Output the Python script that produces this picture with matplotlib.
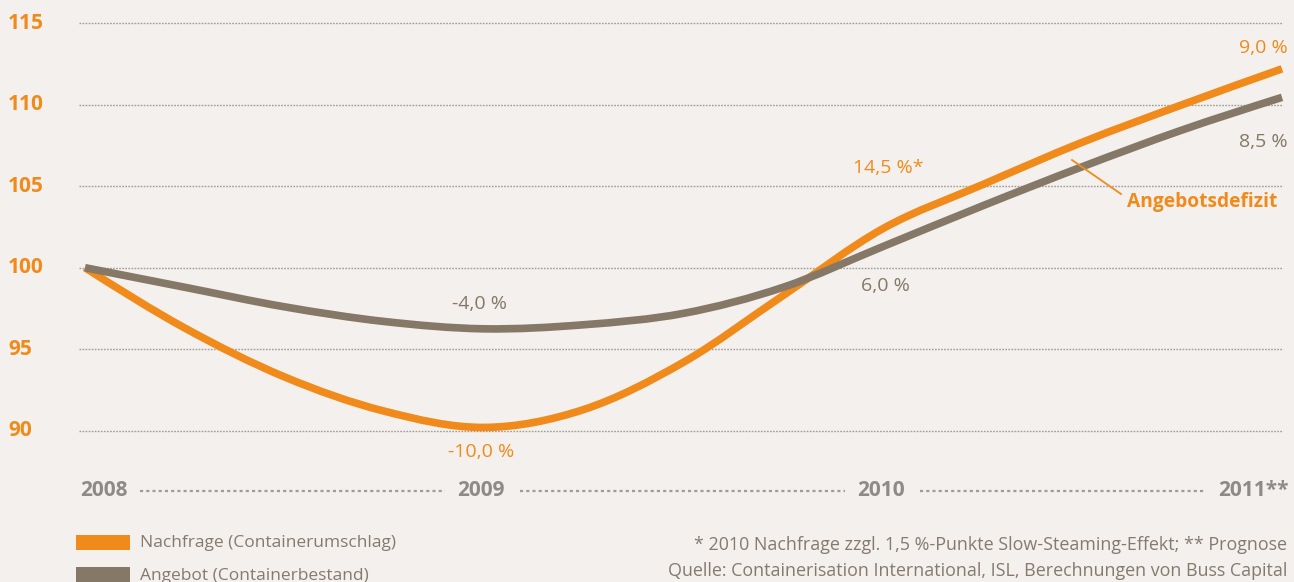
import numpy as np
import matplotlib
matplotlib.use("Agg")
import matplotlib.pyplot as plt
from matplotlib.path import Path
from matplotlib.patches import PathPatch, Rectangle

# ---------------- data ----------------
years = [2008, 2009, 2010, 2011]
year_labels = ["2008", "2009", "2010", "2011**"]
y_ticks = [90, 95, 100, 105, 110, 115]

# curve readings (index values) at quarter-year steps
t_read = [2008.0, 2008.25, 2008.5, 2008.75, 2009.0, 2009.25, 2009.5,
          2009.75, 2010.0, 2010.25, 2010.5, 2010.75, 2011.0]
nachfrage = [100.0, 96.3, 93.3, 91.2, 90.2, 91.3, 94.2,
             98.3, 102.4, 105.1, 107.7, 110.0, 112.2]
angebot = [100.0, 98.8, 97.6, 96.7, 96.25, 96.5, 97.2,
           98.8, 101.3, 103.8, 106.2, 108.45, 110.45]

pct_nachfrage = ["-10,0 %", "14,5 %*", "9,0 %"]
pct_angebot = ["-4,0 %", "6,0 %", "8,5 %"]

legend_labels = ["Nachfrage (Containerumschlag)", "Angebot (Containerbestand)"]
footnotes = ["* 2010 Nachfrage zzgl. 1,5 %-Punkte Slow-Steaming-Effekt; ** Prognose",
             "Quelle: Containerisation International, ISL, Berechnungen von Buss Capital"]
annot_label = "Angebotsdefizit"

# ---------------- style ----------------
BG = "#F3F0ED"
ORANGE = "#F08B1B"
BROWN = "#857866"
GRID = "#A19C97"
YEARGREY = "#8D8A87"
TXTGREY = "#857A6E"
FONT = ["Open Sans", "DejaVu Sans"]

W, H = 1294, 582
fig = plt.figure(figsize=(W / 100, H / 100), dpi=100)
fig.patch.set_facecolor(BG)
ax = fig.add_axes([0, 0, 1, 1])
ax.set_facecolor(BG)
ax.axis("off")

# pixel geometry -> axis limits
px_per_year = 399.0
x0_px = 85.0
ax.set_xlim(2008 - x0_px / px_per_year, 2008 + (W - x0_px) / px_per_year)
px_per_unit = 16.3
y100_px = 267.7
ax.set_ylim(100 - (H - y100_px) / px_per_unit, 100 + y100_px / px_per_unit)


def px2x(px):
    return 2008 + (px - x0_px) / px_per_year


def py2y(py):
    return 100 - (py - y100_px) / px_per_unit


def fx(px):
    return px / W


def fy(py):
    return 1 - py / H


# grid lines
for v in y_ticks:
    ax.plot([px2x(79), px2x(1283)], [v, v], color=GRID, lw=1.0,
            dashes=(1.2, 1.0), dash_capstyle="butt", zorder=1)
    ax.text(fx(8), v, str(v), transform=ax.get_yaxis_transform(),
            ha="left", va="center", color=ORANGE, fontsize=15,
            fontweight="bold", family=FONT)


def smooth_path(xs, ys):
    xs = np.asarray(xs, float)
    ys = np.asarray(ys, float)
    n = len(xs)
    m = np.zeros(n)
    for i in range(1, n - 1):
        m[i] = (ys[i + 1] - ys[i - 1]) / (xs[i + 1] - xs[i - 1])
    d0 = (ys[1] - ys[0]) / (xs[1] - xs[0])
    dn = (ys[-1] - ys[-2]) / (xs[-1] - xs[-2])
    m[0] = (3 * d0 - m[1]) / 2
    m[-1] = (3 * dn - m[-2]) / 2
    verts = [(xs[0], ys[0])]
    codes = [Path.MOVETO]
    for i in range(n - 1):
        h = xs[i + 1] - xs[i]
        verts += [(xs[i] + h / 3, ys[i] + m[i] * h / 3),
                  (xs[i + 1] - h / 3, ys[i + 1] - m[i + 1] * h / 3),
                  (xs[i + 1], ys[i + 1])]
        codes += [Path.CURVE4] * 3
    return Path(verts, codes)


for series, col, z in [(nachfrage, ORANGE, 3), (angebot, BROWN, 4)]:
    patch = PathPatch(smooth_path(t_read, series), facecolor="none",
                      edgecolor=col, lw=5.5, capstyle="butt",
                      joinstyle="round", zorder=z)
    ax.add_patch(patch)

# year labels along the bottom
yl = py2y(491)
ax.text(px2x(80), yl, year_labels[0], ha="left", va="center", color=YEARGREY,
        fontsize=15, fontweight="bold", family=FONT)
ax.text(px2x(481), yl, year_labels[1], ha="center", va="center", color=YEARGREY,
        fontsize=15, fontweight="bold", family=FONT)
ax.text(px2x(881), yl, year_labels[2], ha="center", va="center", color=YEARGREY,
        fontsize=15, fontweight="bold", family=FONT)
ax.text(px2x(1289), yl, year_labels[3], ha="right", va="center", color=YEARGREY,
        fontsize=15, fontweight="bold", family=FONT)
for a, b in [(140, 445), (520, 845), (920, 1205)]:
    ax.plot([px2x(a), px2x(b)], [yl, yl], color=GRID, lw=1.6,
            dashes=(1.4, 1.4), dash_capstyle="butt", zorder=1)

# percentage labels
PSZ = 14
ax.text(px2x(481), py2y(452), pct_nachfrage[0], ha="center", va="center",
        color=ORANGE, fontsize=PSZ, family=FONT)
ax.text(px2x(888), py2y(168), pct_nachfrage[1], ha="center", va="center",
        color=ORANGE, fontsize=PSZ, family=FONT)
ax.text(px2x(1288), py2y(48), pct_nachfrage[2], ha="right", va="center",
        color=ORANGE, fontsize=PSZ, family=FONT)
ax.text(px2x(480), py2y(304), pct_angebot[0], ha="center", va="center",
        color=BROWN, fontsize=PSZ, family=FONT)
ax.text(px2x(885), py2y(286), pct_angebot[1], ha="center", va="center",
        color=BROWN, fontsize=PSZ, family=FONT)
ax.text(px2x(1288), py2y(142), pct_angebot[2], ha="right", va="center",
        color=BROWN, fontsize=PSZ, family=FONT)

# annotation
ax.plot([px2x(1072), px2x(1121)], [py2y(160), py2y(194)], color=ORANGE,
        lw=1.3, zorder=5)
ax.text(px2x(1277), py2y(202), annot_label, ha="right", va="center",
        color=ORANGE, fontsize=13.8, fontweight="bold", family=FONT)

# legend
for i, (lab, col) in enumerate(zip(legend_labels, [ORANGE, BROWN])):
    top = 535 + i * 32
    fig.patches.append(Rectangle((fx(76), fy(top + 15)), fx(130) - fx(76),
                                 fy(top) - fy(top + 15),
                                 transform=fig.transFigure,
                                 facecolor=col, edgecolor="none"))
    fig.text(fx(140), fy(543 + i * 33), lab, ha="left", va="center",
             color=TXTGREY, fontsize=12.5, family=FONT)

# footnotes
fig.text(fx(1287), fy(545), footnotes[0], ha="right", va="center",
         color=TXTGREY, fontsize=12.9, family=FONT)
fig.text(fx(1287), fy(571), footnotes[1], ha="right", va="center",
         color=TXTGREY, fontsize=12.9, family=FONT)

fig.savefig("out.png", dpi=100, facecolor=BG)
